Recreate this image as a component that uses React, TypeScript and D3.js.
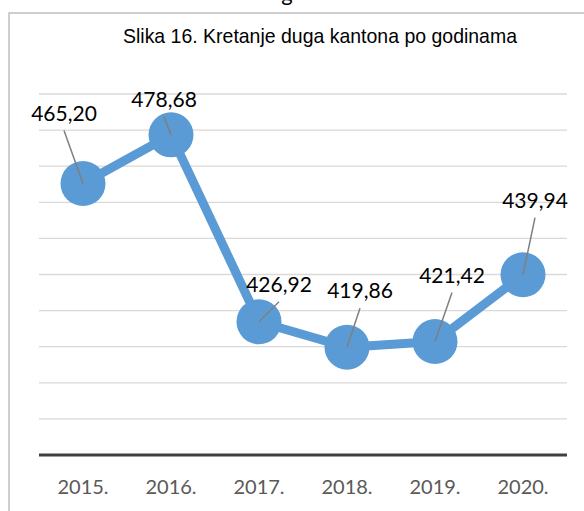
import React from "react";
import * as d3 from "d3";

const years = ["2015.", "2016.", "2017.", "2018.", "2019.", "2020."];
const debt = [465.2, 478.68, 426.92, 419.86, 421.42, 439.94];
const valueLabels = ["465,20", "478,68", "426,92", "419,86", "421,42", "439,94"];
const yTicks = [390, 400, 410, 420, 430, 440, 450, 460, 470, 480, 490];
const title = "Slika 16. Kretanje duga kantona po godinama";

// manual data-label placement (pixel offsets from the point)
const labelDx = [-19, -7, 20, 13, 17, 12];
const labelDy = [-63, -28, -30, -49, -59, -67];

const W = 584;
const H = 511;

export default function App() {
  const x = d3.scaleBand<string>().domain(years).range([39, 567]).padding(0);
  const y = d3.scaleLinear().domain([390, 490]).range([455, 94]);
  const cx = (i: number) => (x(years[i]) as number) + x.bandwidth() / 2;
  const line = d3
    .line<number>()
    .x((_, i) => cx(i))
    .y((d) => y(d));

  return (
    <svg
      width={W}
      height={H}
      style={{ position: "absolute", left: 0, top: 0, background: "#fff" }}
    >
      <rect x={0} y={0} width={W} height={H} fill="#fff" />
      <text
        x={287}
        y={1}
        textAnchor="middle"
        fontFamily="Lato, sans-serif"
        fontSize={22}
        fill="#000"
      >
        g
      </text>
      <rect x={9} y={13} width={700} height={700} fill="#fff" stroke="#bfbfbf" strokeWidth={1.5} />
      <text
        x={320}
        y={43}
        textAnchor="middle"
        fontFamily="'Liberation Sans Narrow', 'Arial Narrow', 'Liberation Sans', sans-serif"
        fontSize={21}
        textLength={394}
        lengthAdjust="spacingAndGlyphs"
        fill="#000"
      >
        {title}
      </text>
      {yTicks
        .filter((t) => t !== 390)
        .map((t) => (
          <line key={t} x1={39} x2={567} y1={y(t)} y2={y(t)} stroke="#d9d9d9" strokeWidth={1.3} />
        ))}
      <line x1={39} x2={567} y1={y(390)} y2={y(390)} stroke="#404040" strokeWidth={3} />
      {years.map((yr, i) => (
        <text
          key={yr}
          x={cx(i)}
          y={494}
          textAnchor="middle"
          fontFamily="Lato, sans-serif"
          fontSize={20}
          fill="#595959"
        >
          {yr}
        </text>
      ))}
      <path d={line(debt) || ""} fill="none" stroke="#5b9bd5" strokeWidth={9} strokeLinejoin="round" />
      {debt.map((v, i) => (
        <circle key={i} cx={cx(i)} cy={y(v)} r={22.5} fill="#5b9bd5" />
      ))}
      {debt.map((v, i) => (
        <line
          key={"l" + i}
          x1={cx(i)}
          y1={y(v)}
          x2={cx(i) + labelDx[i]}
          y2={y(v) + labelDy[i] + 10}
          stroke="#7f7f7f"
          strokeWidth={1.5}
        />
      ))}
      {debt.map((v, i) => (
        <text
          key={"t" + i}
          x={cx(i) + labelDx[i]}
          y={y(v) + labelDy[i]}
          textAnchor="middle"
          fontFamily="Lato, sans-serif"
          fontSize={21}
          fill="#000"
        >
          {valueLabels[i]}
        </text>
      ))}
    </svg>
  );
}
